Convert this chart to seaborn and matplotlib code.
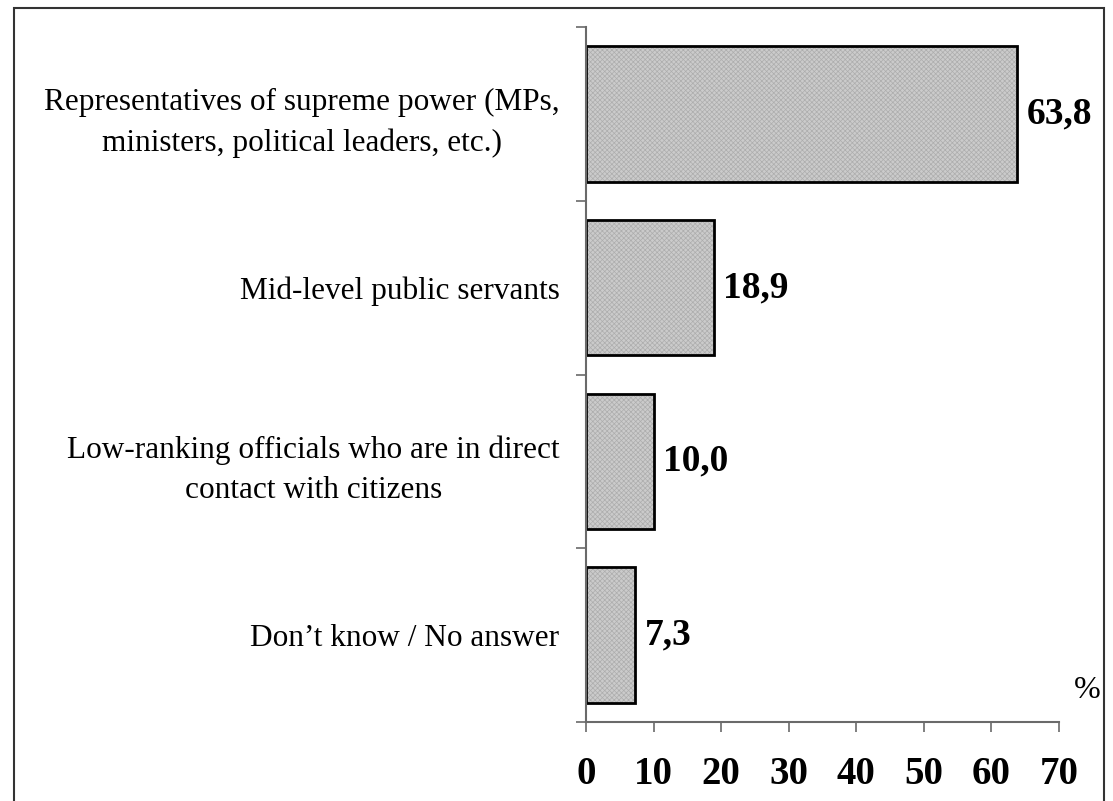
import matplotlib
matplotlib.use("Agg")
import matplotlib.pyplot as plt
from matplotlib.patches import Rectangle
from matplotlib.ticker import FixedLocator
import seaborn as sns
import pandas as pd

# Survey answers and their shares (%)
categories = [
    "Representatives of supreme power (MPs,\nministers, political leaders, etc.)",
    "Mid-level public servants",
    "Low-ranking officials who are in direct\ncontact with citizens",
    "Don\u2019t know / No answer",
]
values = [63.8, 18.9, 10.0, 7.3]
x_ticks = [0, 10, 20, 30, 40, 50, 60, 70]

df = pd.DataFrame({"category": categories, "value": values})

sns.set_style("white")
plt.rcParams["font.family"] = ["Liberation Serif", "DejaVu Serif"]
plt.rcParams["text.color"] = "black"
plt.rcParams["xtick.labelcolor"] = "black"
plt.rcParams["ytick.labelcolor"] = "black"
plt.rcParams["hatch.linewidth"] = 0.5

fig = plt.figure(figsize=(11.13, 8.01), dpi=100)
ax = fig.add_axes([586 / 1113, 79 / 801, 473 / 1113, 695 / 801])

# textured fill layer
sns.barplot(data=df, x="value", y="category", orient="h", ax=ax,
            color="#cbcbcb", edgecolor="#adadad", linewidth=0,
            hatch="xxxxxxx", width=0.78, saturation=1)
# outline layer
sns.barplot(data=df, x="value", y="category", orient="h", ax=ax,
            facecolor="none", edgecolor="black", linewidth=2.0,
            width=0.78, saturation=1)

ax.set_xlim(0, 70)
ax.set_ylim(len(categories) - 0.5, -0.5)
ax.set_xlabel("")
ax.set_ylabel("")

for side in ("top", "right"):
    ax.spines[side].set_visible(False)
for side in ("left", "bottom"):
    ax.spines[side].set_color("#6a6a6a")
    ax.spines[side].set_linewidth(1.5)

ax.set_xticks(x_ticks)
ax.set_xticklabels([str(t) for t in x_ticks], fontsize=28, fontweight="bold")
ax.tick_params(axis="x", direction="out", length=7.5, width=1.2,
               color="#6a6a6a", pad=17, bottom=True)

ax.yaxis.set_minor_locator(FixedLocator([i - 0.5 for i in range(len(categories) + 1)]))
ax.tick_params(axis="y", which="minor", direction="out", length=7.5,
               width=1.2, color="#6a6a6a", left=True)
ax.tick_params(axis="y", which="major", length=0, pad=19, labelsize=22.5)
for lbl in ax.get_yticklabels():
    lbl.set_multialignment("center")
    lbl.set_linespacing(1.5)

# value labels next to each bar
for i, v in enumerate(values):
    ax.annotate(f"{v:.1f}".replace(".", ","), xy=(v, i), xytext=(7, 0),
                textcoords="offset points", ha="left", va="center",
                fontsize=27, fontweight="bold")

fig.text(1087 / 1113, (801 - 690) / 801, "%", ha="center", va="center",
         fontsize=23)

# outer frame of the chart area
fig.add_artist(Rectangle((14 / 1113, -0.05), (1104 - 14) / 1113,
                         (801 - 8) / 801 + 0.05, transform=fig.transFigure,
                         fill=False, linewidth=1.5, edgecolor="#333333"))

fig.savefig("out.png", dpi=100)
